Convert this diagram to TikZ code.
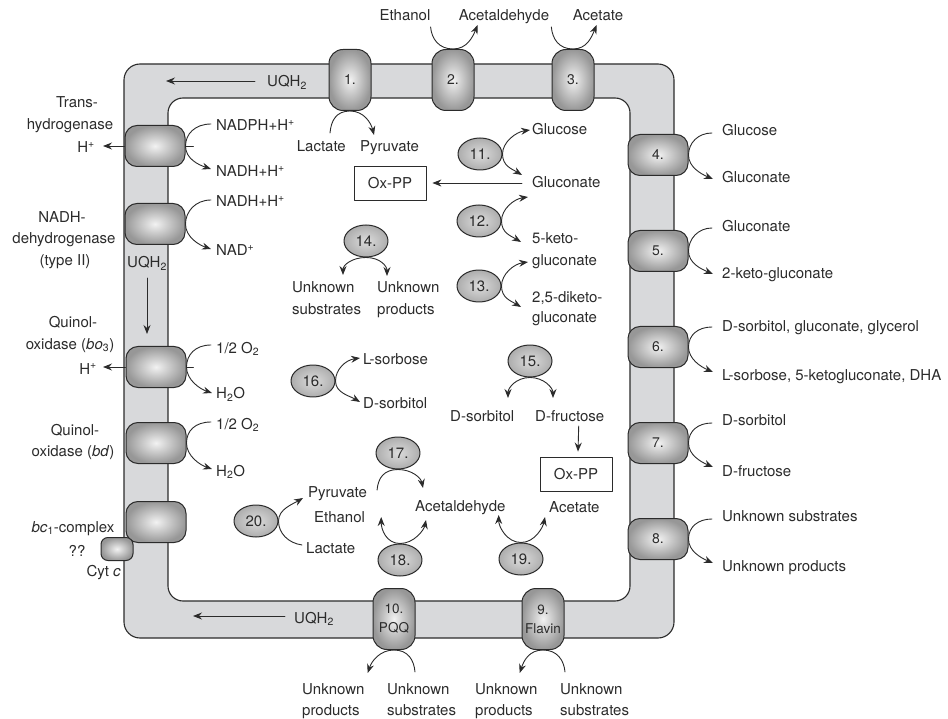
\documentclass[tikz,border=0pt]{standalone}
\usepackage{fontspec}
\setmainfont{TeX Gyre Heros}
\usetikzlibrary{arrows.meta,shapes.geometric}

\definecolor{membr}{HTML}{D8D9DB}
\definecolor{protlight}{HTML}{F2F2F2}
\definecolor{protdark}{HTML}{979797}
\definecolor{enzlight}{HTML}{DCDCDC}
\definecolor{enzdark}{HTML}{ADADAD}
\definecolor{ink}{HTML}{2B2B2B}

\tikzset{
  prot/.style={draw=ink, line width=1pt, rounded corners=12pt, inner color=protlight, outer color=protdark,
    minimum width=60pt, minimum height=41pt, inner sep=0pt, text=ink, font=\fontsize{14}{16}\selectfont},
  protv/.style={prot, rounded corners=14pt, minimum width=42pt, minimum height=61pt},
  enz/.style={ellipse, draw=ink, line width=1pt, inner color=enzlight, outer color=enzdark,
    minimum width=44pt, minimum height=32pt, inner sep=0pt, text=ink},
  oxbox/.style={draw=ink, line width=0.8pt, minimum width=72pt, minimum height=34pt, text=ink},
  lbl/.style={inner sep=0pt, text=ink},
  flow/.style={->, draw=ink, line width=0.9pt},
}

\begin{document}
\begin{tikzpicture}[x=1pt, y=-1pt, font=\fontsize{15}{18}\selectfont, line join=round, line cap=round,
    >={Stealth[length=9pt,width=7pt,inset=3pt]}]
\useasboundingbox (0,0) rectangle (948,719);

% membrane
\draw[draw=ink, line width=1.1pt, fill=membr, rounded corners=16pt] (124,64) rectangle (674,638);
\draw[draw=ink, line width=1.1pt, fill=white, rounded corners=15pt] (168,98) rectangle (630,601);

% membrane proteins
\node[prot] (th) at (155,146) {};
\node[prot] (nd) at (155,224) {};
\node[prot] (bo) at (156,367) {};
\node[prot] (bd) at (156,443) {};
\node[prot] (bc) at (156,522) {};
\node[prot, minimum width=32pt, minimum height=23pt, rounded corners=7pt] (cyt) at (117,549) {};
\node[protv] (p1) at (350,80) {1.};
\node[protv] (p2) at (453,80) {2.};
\node[protv] (p3) at (573,80) {3.};
\node[prot] (p4) at (658,155) {4.};
\node[prot] (p5) at (658,251) {5.};
\node[prot] (p6) at (658,347) {6.};
\node[prot] (p7) at (658,443) {7.};
\node[prot] (p8) at (658,539) {8.};
\node[protv, align=center, font=\fontsize{13.5}{19}\selectfont] (p10) at (394,619) {10.\\PQQ};
\node[protv, align=center, font=\fontsize{13.5}{19}\selectfont] (p9) at (543,619) {9.\\Flavin};

% cytoplasmic enzymes
\node[enz] (e11) at (480,154) {11.};
\node[enz] (e12) at (479,221) {12.};
\node[enz] (e13) at (479,286) {13.};
\node[enz] (e14) at (366,241) {14.};
\node[enz] (e15) at (530,361) {15.};
\node[enz] (e16) at (313,381) {16.};
\node[enz] (e17) at (398,453) {17.};
\node[enz] (e18) at (400,560) {18.};
\node[enz] (e19) at (521,559) {19.};
\node[enz] (e20) at (256,521) {20.};
\node[oxbox] (ox1) at (390,183) {Ox-PP};
\node[oxbox] (ox2) at (576,474) {Ox-PP};

% quinone pool
\node[lbl, anchor=base west] (uqt) at (267,87) {UQH\textsubscript{2}};
\node[lbl, anchor=base west] (uql) at (127,268) {UQH\textsubscript{2}};
\node[lbl, anchor=base west] (uqb) at (294,623) {UQH\textsubscript{2}};
\coordinate (uqtend) at (166,81);
\coordinate (uqlend) at (147,334);
\coordinate (uqbend) at (193,616);
\draw[flow] ([shift={(-12,-6)}]uqt.base west) -- (uqtend);
\draw[flow] ([shift={(20,10)}]uql.base west) -- (uqlend);
\draw[flow] ([shift={(-9,-7)}]uqb.base west) -- (uqbend);

% left side names
\node[lbl, anchor=base] (thn1) at (77,108) {Trans-};
\node[lbl, anchor=base] (thn2) at (70,130) {hydrogenase};
\node[lbl, anchor=base east] (hp1) at (95,153) {H\textsuperscript{+}};
\node[lbl, anchor=base] (ndn1) at (62,223) {NADH-};
\node[lbl, anchor=base] (ndn2) at (64,244) {dehydrogenase};
\node[lbl, anchor=base] (ndn3) at (65,266) {(type II)};
\node[lbl, anchor=base] (bon1) at (73,328) {Quinol-};
\node[lbl, anchor=base] (bon2) at (70,349) {oxidase (\textit{bo}\textsubscript{3})};
\node[lbl, anchor=base east] (hp2) at (97,374) {H\textsuperscript{+}};
\node[lbl, anchor=base] (bdn1) at (75,435) {Quinol-};
\node[lbl, anchor=base] (bdn2) at (73,456) {oxidase (\textit{bd})};
\node[lbl, anchor=base] (bcn) at (73,532) {\textit{bc}\textsubscript{1}-complex};
\node[lbl, anchor=base] (unk) at (77,556) {??};
\node[lbl, anchor=base east] (cytn) at (121,576) {Cyt \textit{c}};
\draw[flow] (th.west) -- ([shift={(8,-7)}]hp1.base east);
\draw[flow] (bo.west) -- ([shift={(6,-7)}]hp2.base east);

% left side reactions
\node[lbl, anchor=base west] (nadph) at (216,131) {NADPH+H\textsuperscript{+}};
\node[lbl, anchor=base west] (nadh1) at (216,177) {NADH+H\textsuperscript{+}};
\node[lbl, anchor=base west] (nadh2) at (216,207) {NADH+H\textsuperscript{+}};
\node[lbl, anchor=base west] (nad) at (216,256) {NAD\textsuperscript{+}};
\node[lbl, anchor=base west] (o2a) at (216,353) {1/2 O\textsubscript{2}};
\node[lbl, anchor=base west] (h2oa) at (216,399) {H\textsubscript{2}O};
\node[lbl, anchor=base west] (o2b) at (216,429) {1/2 O\textsubscript{2}};
\node[lbl, anchor=base west] (h2ob) at (216,476) {H\textsubscript{2}O};
\draw[flow] ([shift={(-5,-7)}]nadph.base west) .. controls +(-16,0) and +(0,-12) .. (th.east) .. controls +(0,13) and +(-12,-4) .. ([shift={(-5,-8)}]nadh1.base west);
\draw[flow] ([shift={(-5,-7)}]nadh2.base west) .. controls +(-16,0) and +(0,-12) .. (nd.east) .. controls +(0,13) and +(-12,-4) .. ([shift={(-5,-7)}]nad.base west);
\draw[flow] ([shift={(-5,-8)}]o2a.base west) .. controls +(-16,0) and +(0,-12) .. (bo.east) .. controls +(0,13) and +(-12,-4) .. ([shift={(-4,-6)}]h2oa.base west);
\draw[flow] ([shift={(-5,-7)}]o2b.base west) .. controls +(-16,0) and +(0,-12) .. (bd.east) .. controls +(0,13) and +(-12,-4) .. ([shift={(-4,-7)}]h2ob.base west);
\draw[draw=ink, line width=0.9pt] (th.east) -- +(8,0);
\draw[draw=ink, line width=0.9pt] (bo.east) -- +(7,0);

% top reactions
\node[lbl, anchor=base] (eth) at (405,21) {Ethanol};
\node[lbl, anchor=base] (ald) at (504,21) {Acetaldehyde};
\node[lbl, anchor=base] (ace) at (598,21) {Acetate};
\node[lbl, anchor=base east] (lac) at (346,152) {Lactate};
\node[lbl, anchor=base west] (pyr) at (360,152) {Pyruvate};
\draw[flow] ([shift={(-16,-19)}]lac.base east) .. controls +(1,-12) and +(-14,0) .. (p1.south) .. controls +(14,0) and +(-3,-12) .. ([shift={(14,-17)}]pyr.base west);
\draw[flow] ([shift={(0,6)}]eth.base east) .. controls +(1,12) and +(-14,0) .. (p2.north) .. controls +(14,0) and +(-5,12) .. ([shift={(19,4)}]ald.base west);
\draw[flow] ([shift={(2,6)}]ald.base east) .. controls +(1,12) and +(-14,0) .. (p3.north) .. controls +(14,0) and +(-5,12) .. ([shift={(24,4)}]ace.base west);

% right side reactions
\node[lbl, anchor=base west] (glc1) at (722,136) {Glucose};
\node[lbl, anchor=base west] (gln1) at (722,183) {Gluconate};
\node[lbl, anchor=base west] (gln2) at (722,232) {Gluconate};
\node[lbl, anchor=base west] (kgl) at (722,279) {2-keto-gluconate};
\node[lbl, anchor=base west] (r6a) at (722,332) {D-sorbitol, gluconate, glycerol};
\node[lbl, anchor=base west] (r6b) at (722,381) {L-sorbose, 5-ketogluconate, DHA};
\node[lbl, anchor=base west] (r7a) at (722,425) {D-sorbitol};
\node[lbl, anchor=base west] (r7b) at (722,476) {D-fructose};
\node[lbl, anchor=base west] (r8a) at (722,521) {Unknown substrates};
\node[lbl, anchor=base west] (r8b) at (722,571) {Unknown products};
\draw[flow] ([shift={(-10,-3)}]glc1.base west) .. controls +(-14,0) and +(0,-12) .. (p4.east) .. controls +(0,12) and +(-12,-5) .. ([shift={(-9,-4)}]gln1.base west);
\draw[flow] ([shift={(-10,-4)}]gln2.base west) .. controls +(-14,0) and +(0,-12) .. (p5.east) .. controls +(0,12) and +(-12,-5) .. ([shift={(-9,-5)}]kgl.base west);
\draw[flow] ([shift={(-10,-5)}]r6a.base west) .. controls +(-14,0) and +(0,-12) .. (p6.east) .. controls +(0,12) and +(-12,-5) .. ([shift={(-9,-9)}]r6b.base west);
\draw[flow] ([shift={(-10,-2)}]r7a.base west) .. controls +(-14,0) and +(0,-12) .. (p7.east) .. controls +(0,12) and +(-12,-5) .. ([shift={(-9,-9)}]r7b.base west);
\draw[flow] ([shift={(-10,-2)}]r8a.base west) .. controls +(-14,0) and +(0,-12) .. (p8.east) .. controls +(0,12) and +(-12,-5) .. ([shift={(-9,-8)}]r8b.base west);

% bottom reactions
\node[lbl, anchor=base west] (up3) at (302,694) {Unknown};
\node[lbl, anchor=base west] (up3b) at (302,715) {products};
\node[lbl, anchor=base west] (us3) at (387,694) {Unknown};
\node[lbl, anchor=base west] (us3b) at (387,715) {substrates};
\node[lbl, anchor=base west] (up4) at (475,694) {Unknown};
\node[lbl, anchor=base west] (up4b) at (475,715) {products};
\node[lbl, anchor=base west] (us4) at (560,694) {Unknown};
\node[lbl, anchor=base west] (us4b) at (560,715) {substrates};
\draw[flow] ([shift={(28,-22)}]us3.base west) .. controls +(-1,-12) and +(14,0) .. (p10.south) .. controls +(-14,0) and +(4,-12) .. ([shift={(3,-21)}]up3.base east);
\draw[flow] ([shift={(5,-22)}]us4.base west) .. controls +(-1,-12) and +(14,0) .. (p9.south) .. controls +(-14,0) and +(4,-12) .. ([shift={(-18,-21)}]up4.base east);

% cytoplasm: gluconate branch
\node[lbl, anchor=base west] (glc2) at (532,135) {Glucose};
\node[lbl, anchor=base west] (gln3) at (532,188) {Gluconate};
\node[lbl, anchor=base west] (k5a) at (532,244) {5-keto-};
\node[lbl, anchor=base west] (k5b) at (532,266) {gluconate};
\node[lbl, anchor=base west] (dk1) at (532,303) {2,5-diketo-};
\node[lbl, anchor=base west] (dk2) at (532,323) {gluconate};
\draw[flow, <->] ([shift={(-2,-5)}]glc2.base west) .. controls +(-14,2) and +(0,-12) .. (e11.east) .. controls +(0,12) and +(-10,-6) .. ([shift={(-10,-13)}]gln3.base west);
\draw[flow, <->] ([shift={(-4,9)}]gln3.base west) .. controls +(-14,2) and +(0,-12) .. (e12.east) .. controls +(0,12) and +(-10,-6) .. ([shift={(-11,-2)}]k5a.base west);
\draw[flow, <->] ([shift={(-4,-4)}]k5b.base west) .. controls +(-14,2) and +(0,-12) .. (e13.east) .. controls +(0,12) and +(-10,-6) .. ([shift={(-11,4)}]dk1.base west);
\draw[flow] ([shift={(-10,-5)}]gln3.base west) -- ([xshift=6pt]ox1.east);

% cytoplasm: unknown, sorbitol
\node[lbl, anchor=base west] (us1) at (292,293) {Unknown};
\node[lbl, anchor=base west] (us1b) at (292,315) {substrates};
\node[lbl, anchor=base west] (up1) at (377,293) {Unknown};
\node[lbl, anchor=base west] (up1b) at (377,315) {products};
\draw[flow, <->] ([shift={(51,-18)}]us1.base west) .. controls +(0,-10) and +(-14,0) .. (e14.south) .. controls +(14,0) and +(0,-10) .. ([shift={(10,-17)}]up1.base west);
\node[lbl, anchor=base west] (lsor) at (363,364) {L-sorbose};
\node[lbl, anchor=base west] (dsor) at (363,408) {D-sorbitol};
\draw[flow, <->] ([shift={(-3,-6)}]lsor.base west) .. controls +(-14,2) and +(0,-12) .. (e16.east) .. controls +(0,12) and +(-10,-6) .. ([shift={(-3,-6)}]dsor.base west);
\node[lbl, anchor=base west] (dsor2) at (450,421) {D-sorbitol};
\node[lbl, anchor=base west] (dfru) at (535,421) {D-fructose};
\draw[flow, <->] ([shift={(58,-23)}]dsor2.base west) .. controls +(0,-10) and +(-14,0) .. (e15.south) .. controls +(14,0) and +(0,-10) .. ([shift={(18,-23)}]dfru.base west);
\draw[flow] ([shift={(9,5)}]dfru.base) -- ([shift={(2,-5)}]ox2.north);

% cytoplasm: pyruvate, acetaldehyde
\node[lbl, anchor=base west] (pyr2) at (308,497) {Pyruvate};
\node[lbl, anchor=base west] (eth2) at (314,522) {Ethanol};
\node[lbl, anchor=base west] (lac2) at (306,553) {Lactate};
\node[lbl, anchor=base west] (ald2) at (415,511) {Acetaldehyde};
\node[lbl, anchor=base west] (ace2) at (549,512) {Acetate};
\draw[flow] ([shift={(10,-7)}]pyr2.base east) .. controls +(1,-12) and +(-14,0) .. (e17.south) .. controls +(14,0) and +(-2,-10) .. ([shift={(8,-23)}]ald2.base west);
\draw[flow, <->] ([shift={(16,-5)}]eth2.base east) .. controls +(0,12) and +(-14,0) .. (e18.north) .. controls +(14,0) and +(-2,10) .. ([shift={(11,9)}]ald2.base west);
\draw[flow, <->] ([shift={(-7,4)}]ald2.base east) .. controls +(0,12) and +(-14,0) .. (e19.north) .. controls +(14,0) and +(-2,10) .. ([shift={(-4,5)}]ace2.base west);
\draw[flow] ([shift={(-4,-8)}]lac2.base west) .. controls +(-14,-2) and +(0,12) .. (e20.east) .. controls +(0,-12) and +(-10,6) .. ([shift={(-5,1)}]pyr2.base west);
\end{tikzpicture}
\end{document}
